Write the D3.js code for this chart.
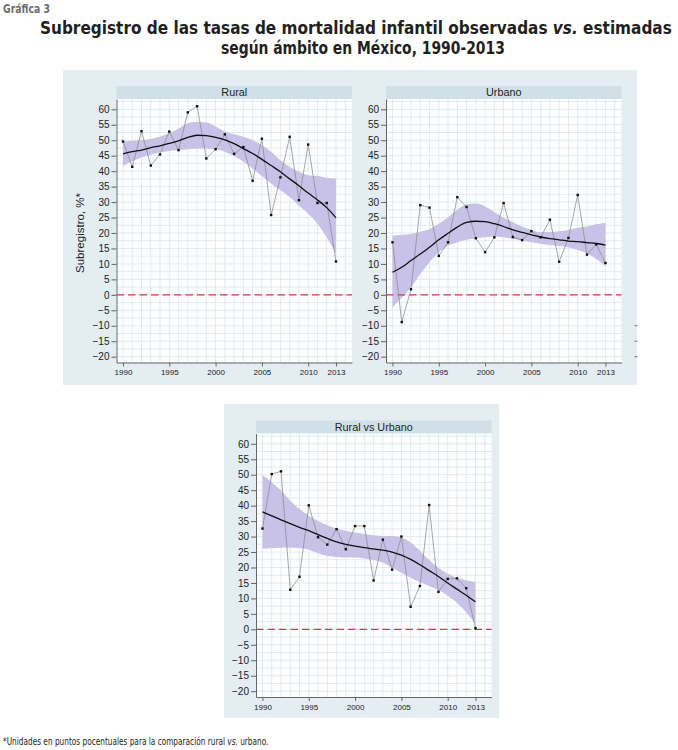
<!DOCTYPE html>
<html><head><meta charset="utf-8">
<script src="https://cdn.jsdelivr.net/npm/d3@7"></script>
<style>
html,body{margin:0;padding:0;background:#fff;}
svg{display:block;}
</style></head>
<body>
<script>
// ---------- DATA ----------
const years = [1990,1991,1992,1993,1994,1995,1996,1997,1998,1999,2000,2001,2002,2003,2004,2005,2006,2007,2008,2009,2010,2011,2012,2013];
const xTickYears = [1990,1995,2000,2005,2010,2013];
const yTickValues = [-20,-15,-10,-5,0,5,10,15,20,25,30,35,40,45,50,55,60];

const ruralObs = [49.6,41.4,52.9,41.8,45.4,52.8,46.8,59.0,61.0,44.1,47.1,51.9,45.6,47.8,36.9,50.5,25.8,38.0,51.1,30.6,48.6,29.7,29.7,10.8];
const ruralFit = [45.6,46.3,46.8,47.6,48.2,49.0,49.8,50.9,51.6,51.5,50.9,50.1,48.9,47.3,45.7,43.8,41.8,39.8,37.5,35.3,32.9,30.7,28.2,24.9];
const ruralHi  = [49.6,49.8,50.0,50.4,51.1,52.3,53.8,55.5,55.9,55.7,54.4,52.8,51.9,51.1,50.0,48.4,46.3,43.5,41.4,39.8,38.7,38.4,37.9,37.6];
const ruralLo  = [41.6,43.2,44.4,45.3,46.0,46.5,46.8,47.1,47.3,47.3,47.1,46.3,44.9,43.0,40.8,38.4,36.0,33.8,31.6,28.9,26.2,23.0,18.6,13.2];

const urbanObs = [17.0,-8.8,1.8,29.0,28.2,12.6,17.0,31.6,28.4,18.3,13.8,18.6,29.7,18.7,17.7,20.6,18.6,24.3,10.7,18.4,32.3,13.0,16.3,10.3];
const urbanFit = [7.3,8.9,11.1,13.2,15.4,17.8,19.9,21.9,23.4,23.8,23.7,23.0,22.1,21.0,20.2,19.4,18.7,18.2,17.8,17.4,17.2,16.9,16.6,16.1];
const urbanHi  = [19.1,19.4,19.7,20.4,21.3,23.0,25.1,27.5,29.3,29.5,28.6,26.8,24.9,23.5,22.1,21.0,20.3,20.3,20.6,21.0,21.7,22.1,22.8,23.3];
const urbanLo  = [-4.1,-0.9,2.4,6.7,10.5,13.8,15.9,17.0,17.8,18.2,18.6,18.9,18.6,18.1,17.6,17.0,16.5,16.1,15.8,15.4,14.5,13.4,11.6,9.2];

const rvuObs = [32.6,50.2,51.1,12.8,17.0,40.1,29.8,27.4,32.4,25.9,33.4,33.4,15.8,29.0,19.3,30.0,7.3,14.0,40.2,12.1,16.3,16.5,13.3,0.4];
const rvuFit = [38.0,36.7,35.4,34.2,33.0,31.9,30.6,29.4,28.3,27.5,26.9,26.4,26.0,25.6,25.0,24.0,22.6,20.9,19.0,17.1,15.0,13.0,11.0,8.9];
const rvuHi  = [49.9,47.6,44.9,41.6,38.9,36.7,35.0,33.7,32.6,31.9,31.3,30.8,30.4,30.2,30.2,29.7,28.1,25.4,22.4,19.9,18.0,16.7,15.9,15.3];
const rvuLo  = [26.1,26.2,26.4,26.5,26.3,25.7,24.6,23.7,23.4,23.2,23.2,22.9,22.4,21.6,19.9,18.3,16.7,15.3,14.0,12.7,10.9,8.6,5.5,1.7];

const panelTitles = ["Rural","Urbano","Rural vs Urbano"];
const yAxisTitle = "Subregistro, %*";
const chartLabel = "Gráfica 3";
const titleLine1 = ["Subregistro de las tasas de mortalidad infantil observadas ", "vs.", " estimadas"];
const titleLine2 = "según ámbito en México, 1990-2013";
const footnote = ["*Unidades en puntos pocentuales para la comparación rural ", "vs.", " urbano."];

// ---------- LAYOUT ----------
const W = 678, H = 750;
const svg = d3.select("body").append("svg").attr("width", W).attr("height", H);
const condensed = "'Liberation Sans Narrow','DejaVu Sans Condensed','Open Sans',sans-serif";
const sans = "'Liberation Sans',Arial,Helvetica,sans-serif";

// background regions
svg.append("rect").attr("x",63).attr("y",70).attr("width",574).attr("height",315).attr("fill","#e4edf1");
svg.append("rect").attr("x",224).attr("y",404).attr("width",275).attr("height",314).attr("fill","#e4edf1");

const PW = 235.5, PH = 263.5, HH = 13;
const panels = [
  {left:116.5, top:99, obs:ruralObs, fit:ruralFit, hi:ruralHi, lo:ruralLo, title:panelTitles[0], ytitle:true},
  {left:386, top:99, obs:urbanObs, fit:urbanFit, hi:urbanHi, lo:urbanLo, title:panelTitles[1], ytitle:false},
  {left:256, top:433.5, obs:rvuObs, fit:rvuFit, hi:rvuHi, lo:rvuLo, title:panelTitles[2], ytitle:false}
];

let lastY = null;
panels.forEach(p => {
  const g = svg.append("g").attr("transform", `translate(${p.left},${p.top})`);
  const x = d3.scaleLinear().domain([1989.3, 2014.73]).range([0, PW]);
  const y = d3.scaleLinear().domain([-21.88, 63.33]).range([PH, 0]);
  if (p.left === 386) lastY = {y, top:p.top};

  // header strip
  g.append("rect").attr("x",0).attr("y",-HH).attr("width",PW).attr("height",HH).attr("fill","#d1e0e7");
  g.append("text").attr("x",PW/2).attr("y",-2.8).attr("text-anchor","middle")
    .attr("font-family",sans).attr("font-size",10.8).attr("fill","#222").text(p.title);

  // plot bg
  g.append("rect").attr("width",PW).attr("height",PH).attr("fill","#fff");

  // grid
  const gridC = "#dde8ee";
  g.append("g").selectAll("line").data(d3.range(1990, 2015)).join("line")
    .attr("x1", d=>x(d)).attr("x2", d=>x(d)).attr("y1",0).attr("y2",PH)
    .attr("stroke",gridC).attr("stroke-width",0.9);
  g.append("g").selectAll("line").data(d3.range(-20, 62.6, 2.5)).join("line")
    .attr("y1", d=>y(d)).attr("y2", d=>y(d)).attr("x1",0).attr("x2",PW)
    .attr("stroke",gridC).attr("stroke-width",0.9);

  // CI band
  const area = d3.area().x((d,i)=>x(years[i])).y0((d,i)=>y(p.lo[i])).y1((d,i)=>y(p.hi[i])).curve(d3.curveMonotoneX);
  g.append("path").datum(years).attr("d", area).attr("fill","#c8c1e8");

  // zero dashed line
  g.append("line").attr("x1",0).attr("x2",PW).attr("y1",y(0)).attr("y2",y(0))
    .attr("stroke","#e3304d").attr("stroke-width",1.4).attr("stroke-dasharray","7.5,4");

  // observed line
  const obsLine = d3.line().x((d,i)=>x(years[i])).y(d=>y(d));
  g.append("path").datum(p.obs).attr("d", obsLine).attr("fill","none").attr("stroke","#8f8f8f").attr("stroke-width",0.8);

  // fit line
  const fitLine = d3.line().x((d,i)=>x(years[i])).y(d=>y(d)).curve(d3.curveMonotoneX);
  g.append("path").datum(p.fit).attr("d", fitLine).attr("fill","none").attr("stroke","#111").attr("stroke-width",1.3);

  // markers
  g.append("g").selectAll("rect").data(p.obs).join("rect")
    .attr("x",(d,i)=>x(years[i])-1.2).attr("y",d=>y(d)-1.2).attr("width",2.4).attr("height",2.4).attr("fill","#111");

  // axes
  const ya = g.append("g").call(d3.axisLeft(y).tickValues(yTickValues).tickSize(5).tickSizeOuter(0).tickPadding(2));
  ya.selectAll("text").attr("font-family",sans).attr("font-size",10).attr("fill","#222");
  ya.selectAll("line,path").attr("stroke","#666");
  const xa = g.append("g").attr("transform",`translate(0,${PH})`)
    .call(d3.axisBottom(x).tickValues(xTickYears).tickFormat(d3.format("d")).tickSize(4).tickSizeOuter(0).tickPadding(3));
  xa.selectAll("text").attr("font-family",sans).attr("font-size",8).attr("fill","#222");
  xa.selectAll("line,path").attr("stroke","#666");

  if (p.ytitle) {
    g.append("text").attr("transform",`translate(-33,${y(20)}) rotate(-90)`).attr("text-anchor","middle")
      .attr("font-family",sans).attr("font-size",11.5).attr("fill","#222").text(yAxisTitle);
  }
});

// stray ticks at right edge of the upper region
if (lastY) {
  svg.append("g").selectAll("line").data([-10,-15,-20]).join("line")
    .attr("x1",634.5).attr("x2",637.5)
    .attr("y1",d=>lastY.top+lastY.y(d)).attr("y2",d=>lastY.top+lastY.y(d))
    .attr("stroke","#666").attr("stroke-width",0.9);
}

// ---------- TEXTS ----------
function fitText(sel, targetW) {
  const w = sel.node().getBBox().width;
  return targetW / w;
}
function addParts(t, parts) {
  parts.forEach((s,i) => t.append("tspan").attr("font-style", i===1 ? "italic" : "normal").text(s));
}

// Gráfica 3
const g3 = svg.append("text").attr("font-family",condensed).attr("font-weight","bold").attr("font-size",11.5)
  .attr("fill","#6d6e71").text(chartLabel);
const s3 = fitText(g3, 47);
g3.attr("transform",`translate(3,13) scale(${s3},1)`);

// Title line 1
const t1 = svg.append("text").attr("font-family",condensed).attr("font-weight","bold").attr("font-size",18.5).attr("fill","#231f20");
addParts(t1, titleLine1);
const s1 = fitText(t1, 632);
t1.attr("transform",`translate(40,34) scale(${s1},1)`);

// Title line 2
const t2 = svg.append("text").attr("font-family",condensed).attr("font-weight","bold").attr("font-size",18.5).attr("fill","#231f20")
  .text(titleLine2);
const s2 = fitText(t2, 284);
t2.attr("transform",`translate(221,54) scale(${s2},1)`);

// Footnote
const fn = svg.append("text").attr("font-family",condensed).attr("font-size",10).attr("fill","#231f20");
addParts(fn, footnote);
const sf = fitText(fn, 266);
fn.attr("transform",`translate(3,745) scale(${sf},1)`);
</script>
</body></html>
